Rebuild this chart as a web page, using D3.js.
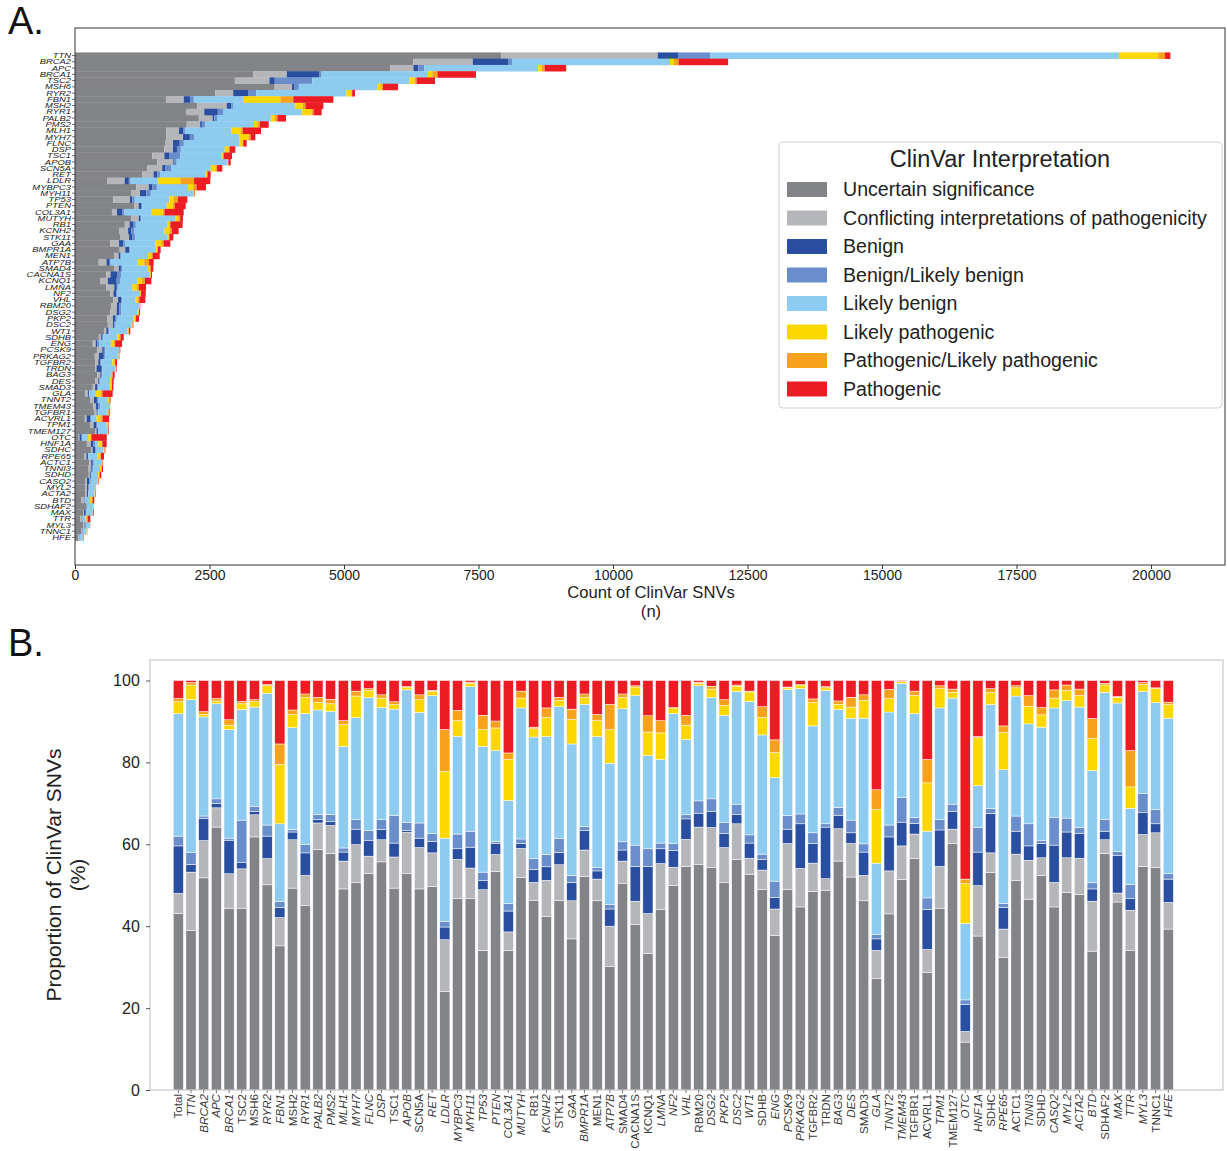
<!DOCTYPE html>
<html><head><meta charset="utf-8">
<script src="https://cdn.jsdelivr.net/npm/d3@7"></script>
<style>
body{margin:0;background:#fff}
text{font-family:"Liberation Sans",Arial,sans-serif}
</style>
</head><body>
<svg id="c" width="1227" height="1151"></svg>
<script>
const categories = ["Uncertain significance","Conflicting interpretations of pathogenicity","Benign","Benign/Likely benign","Likely benign","Likely pathogenic","Pathogenic/Likely pathogenic","Pathogenic"];
const colors = ["#838488","#b5b6ba","#2b4fa0","#6a8ecb","#8dcbf0","#fdd700","#f8a11c","#ec1c24"];

const genes = ["TTN","BRCA2","APC","BRCA1","TSC2","MSH6","RYR2","FBN1","MSH2","RYR1",
"PALB2","PMS2","MLH1","MYH7","FLNC","DSP","TSC1","APOB","SCN5A","RET",
"LDLR","MYBPC3","MYH11","TP53","PTEN","COL3A1","MUTYH","RB1","KCNH2","STK11",
"GAA","BMPR1A","MEN1","ATP7B","SMAD4","CACNA1S","KCNQ1","LMNA","NF2","VHL",
"RBM20","DSG2","PKP2","DSC2","WT1","SDHB","ENG","PCSK9","PRKAG2","TGFBR2",
"TRDN","BAG3","DES","SMAD3","GLA","TNNT2","TMEM43","TGFBR1","ACVRL1","TPM1",
"TMEM127","OTC","HNF1A","SDHC","RPE65","ACTC1","TNNI3","SDHD","CASQ2","MYL2",
"ACTA2","BTD","SDHAF2","MAX","TTR","MYL3","TNNC1","HFE"];

// total ClinVar SNV counts per gene (panel A)
const totals = [20360,12140,9130,7454,6691,6004,5204,4802,4616,4585,
3922,3600,3457,3352,3191,2980,2918,2894,2738,2522,
2515,2435,2230,2088,2057,2020,2007,2000,1927,1828,
1772,1592,1574,1462,1455,1431,1419,1320,1314,1307,
1214,1208,1190,1084,1028,905,874,842,824,781,
775,737,719,713,700,660,657,645,635,632,
626,590,589,564,539,522,520,489,440,392,
390,359,353,350,286,285,229,161];

const barLabels = ["Total"].concat(genes);

// proportions (%) per category, order = barLabels (panel B)
const uncertain = [43.1,38.9,51.8,64.2,44.4,44.4,61.8,50.1,35.2,49.3,
45.0,58.7,57.7,49.1,50.6,52.8,55.7,49.3,52.8,49.1,
49.7,24.0,46.7,46.7,34.1,53.4,34.0,51.9,46.3,42.4,
46.3,36.9,52.2,46.2,30.2,50.5,40.4,33.3,44.1,49.9,
54.6,55.0,54.3,50.6,56.3,52.7,49.0,37.7,48.9,44.7,
48.5,48.8,55.9,52.0,46.2,27.2,43.0,51.4,56.6,28.7,
44.4,60.2,11.7,37.6,53.1,32.4,51.2,46.6,52.4,44.7,
48.2,47.8,33.9,57.8,45.9,34.0,54.6,54.4,39.3];
const conflicting = [4.9,14.3,9.1,4.7,8.4,9.6,5.4,6.4,6.9,11.8,
7.4,6.5,6.9,6.8,9.3,4.3,5.4,7.6,10.1,10.1,
8.2,12.7,9.6,7.5,14.8,4.1,4.6,7.1,4.4,8.8,
8.7,9.3,6.4,5.3,9.8,5.4,5.7,9.8,11.2,4.5,
6.6,9.2,9.8,8.6,8.7,3.9,4.7,6.5,11.3,9.4,
6.9,2.8,7.9,8.2,6.2,6.9,10.5,8.2,5.9,5.6,
10.2,3.5,2.6,12.3,4.8,6.9,6.4,9.5,4.3,6.0,
8.5,8.8,12.2,3.3,2.2,9.9,7.8,8.4,6.5];
const benign = [11.6,1.9,5.4,1.0,8.2,1.5,0.8,5.5,2.4,1.9,
5.5,0.8,0.9,2.2,3.8,3.9,2.5,3.4,0.5,2.3,
2.8,3.1,2.6,5.1,2.2,2.7,5.1,1.2,3.2,3.3,
3.0,4.5,4.8,2.0,4.2,2.7,8.5,11.5,3.6,4.1,
5.0,3.4,3.9,3.4,2.3,3.7,2.6,2.8,3.5,10.9,
4.8,12.6,3.3,2.6,5.7,2.8,8.3,5.8,2.6,9.8,
8.9,4.3,6.6,8.2,9.6,5.3,5.6,3.5,3.5,9.1,
6.3,6.1,3.0,2.1,9.1,2.8,5.3,2.2,5.7];
const benignLikelyBenign = [2.4,2.9,0.6,1.2,0.5,10.4,1.3,2.7,1.5,0.6,
2.1,1.3,1.8,1.0,2.3,2.4,2.4,6.8,1.9,3.7,
1.9,1.3,3.6,3.9,2.1,0.5,1.8,1.1,2.6,3.0,
3.4,1.7,1.0,0.8,1.1,2.0,5.2,4.3,1.4,1.7,
1.0,3.0,3.1,2.8,2.5,2.0,1.3,4.0,3.3,2.4,
2.6,0.8,1.9,3.1,2.0,1.1,2.9,6.0,1.4,2.8,
2.5,1.8,1.1,6.0,1.2,1.0,3.7,5.4,0.8,6.7,
3.4,1.4,1.5,2.9,1.0,3.5,4.7,3.5,1.3];
const likelyBenign = [29.9,37.3,24.2,23.2,26.5,27.0,24.2,32.2,19.0,24.9,
31.9,25.5,25.2,24.8,24.9,32.4,27.4,25.9,32.4,27.0,
33.7,20.4,23.9,35.3,30.7,22.2,25.2,32.0,29.7,28.8,
32.2,32.1,29.8,32.0,34.5,32.5,36.5,22.8,20.4,31.7,
18.4,28.1,24.8,26.1,27.5,32.6,29.1,25.3,30.8,30.6,
26.1,32.6,23.9,24.9,30.7,17.4,27.6,27.9,25.4,16.3,
27.3,25.9,18.7,10.2,25.4,32.6,29.3,24.4,27.6,26.8,
28.7,29.4,27.4,31.0,36.3,18.6,24.9,26.1,38.0];
const likelyPathogenic = [2.9,3.6,0.6,0.7,1.1,1.4,1.3,1.8,14.5,3.2,
4.0,1.8,1.8,5.3,5.3,1.8,2.3,1.1,0.7,3.1,
1.0,16.3,3.8,0.8,4.1,5.5,10.0,2.4,2.0,4.7,
1.5,6.0,1.7,3.9,8.2,2.8,2.1,5.7,6.5,1.4,
3.5,0.6,2.0,2.4,1.3,2.3,4.3,6.1,0.4,0.9,
5.7,0.6,1.3,2.7,4.3,13.1,3.3,0.4,4.5,11.8,
4.7,1.4,9.7,11.7,3.0,9.1,2.0,4.3,3.0,2.4,
2.5,2.8,7.8,1.8,1.4,5.2,1.7,3.4,3.3];
const pathogenicLikely = [0.8,0.6,0.7,0.6,1.3,0.6,0.5,0.3,5.0,1.1,
0.8,1.3,1.1,1.0,1.2,0.4,0.8,0.7,0.1,1.2,
0.3,10.2,2.5,0.3,3.5,1.7,1.6,1.7,0.4,2.3,
0.8,2.5,0.8,1.5,6.2,0.8,0.3,4.0,3.0,0.1,
2.4,0.3,0.7,1.4,0.3,0.2,2.6,3.1,0.2,0.1,
0.9,0.3,0.8,2.4,1.4,4.8,2.2,0.1,1.0,5.7,
0.7,0.8,1.1,0.3,0.9,1.6,0.5,2.6,1.8,2.0,
1.3,1.6,4.9,0.4,0.2,8.9,0.5,0.2,0.6];
const pathogenic = [4.4,0.5,7.6,4.4,9.6,5.1,4.7,1.0,15.5,7.2,
3.3,4.1,4.6,9.8,2.6,2.0,3.5,5.2,1.5,3.5,
2.4,12.0,7.3,0.4,8.5,9.9,17.7,2.6,11.4,6.7,
4.1,7.0,3.3,8.3,5.8,3.3,1.3,8.6,9.8,6.6,
8.5,0.4,1.4,4.7,1.1,2.6,6.4,14.5,1.6,1.0,
4.5,1.5,5.0,4.1,3.5,26.7,2.2,0.2,2.6,19.3,
1.3,2.1,48.5,13.7,2.0,11.1,1.3,3.7,6.6,2.3,
1.1,2.1,9.3,0.7,3.9,17.1,0.5,1.8,5.3];

const xTicksA = [0,2500,5000,7500,10000,12500,15000,17500,20000];
const yTicksB = [0,20,40,60,80,100];
// panel B labels printed upright (the rest are italic)
const uprightLabels = ["Total","TSC2","MSH6","MSH2","TSC1","SCN5A","RB1","STK11","MEN1","SMAD4","CACNA1S","KCNQ1","RBM20","SDHB","TGFBR2","TRDN","SMAD3","TGFBR1","ACVRL1","TMEM127","SDHC","ACTC1","SDHD","SDHAF2","TNNC1"];

const series = [uncertain,conflicting,benign,benignLikelyBenign,likelyBenign,likelyPathogenic,pathogenicLikely,pathogenic];

// build tables
const propRows = barLabels.map((name,i)=>{
  const r = {name};
  const s = d3.sum(series, a=>a[i]);
  categories.forEach((c,k)=> r[c] = series[k][i]*100/s);
  return r;
});
const countRows = genes.map((g,i)=>{
  const r = {name:g};
  const p = propRows[i+1];
  categories.forEach(c=> r[c] = totals[i]*p[c]/100);
  return r;
});

const svg = d3.select("#c");
const textCol = "#222";
const FF = "'Liberation Sans',Arial,sans-serif";

// ---------------- Panel A ----------------
const A = {l:75, r:1225, t:28, b:565};
const xA = d3.scaleLinear().domain([0, 21375]).range([A.l, A.r]);
const step = (A.b - A.t)/(78 + 7.8);
const yA = d3.scaleBand().domain(genes).range([A.t + 3.9*step, A.b - 3.9*step]).padding(0);

const stackA = d3.stack().keys(categories)(countRows);
svg.append("g").selectAll("g.layer").data(stackA).join("g")
  .attr("fill",(d,i)=>colors[i])
  .selectAll("rect").data(d=>d).join("rect")
  .attr("x",d=>xA(d[0]))
  .attr("y",d=>yA(d.data.name))
  .attr("width",d=>Math.max(0,xA(d[1])-xA(d[0])))
  .attr("height",yA.bandwidth()+0.3);

svg.append("rect").attr("x",A.l).attr("y",A.t).attr("width",A.r-A.l).attr("height",A.b-A.t)
  .attr("fill","none").attr("stroke","#333").attr("stroke-width",1);

const axA = svg.append("g").attr("transform",`translate(0,${A.b})`)
  .call(d3.axisBottom(xA).tickValues(xTicksA).tickSize(4).tickFormat(d3.format("d")));
axA.select(".domain").remove();
axA.selectAll("text").attr("font-size",14).attr("fill",textCol).attr("y",5).style("font-family",FF);
axA.selectAll("line").attr("stroke","#333");

const ayA = svg.append("g").attr("transform",`translate(${A.l},0)`)
  .call(d3.axisLeft(yA).tickSize(3).tickFormat(""));
ayA.select(".domain").remove();
ayA.selectAll("line").attr("stroke","#333").attr("stroke-width",0.7);
svg.append("g").selectAll("text").data(genes).join("text")
  .attr("transform",d=>`translate(${A.l-4},${yA(d)+yA.bandwidth()/2+2.6}) scale(1,0.72)`)
  .attr("text-anchor","end").attr("font-size",9.4).attr("font-style","italic")
  .attr("fill","#222").text(d=>d);

svg.append("text").attr("x",651).attr("y",598).attr("text-anchor","middle")
  .attr("font-size",16.6).attr("fill",textCol).text("Count of ClinVar SNVs");
svg.append("text").attr("x",651).attr("y",617).attr("text-anchor","middle")
  .attr("font-size",16.6).attr("fill",textCol).text("(n)");

// legend
const L = svg.append("g");
L.append("rect").attr("x",779).attr("y",142).attr("width",443).attr("height",266).attr("rx",4)
  .attr("fill","#fff").attr("stroke","#cfcfcf").attr("stroke-width",1);
L.append("text").attr("x",1000).attr("y",167).attr("text-anchor","middle")
  .attr("font-size",23.5).attr("fill",textCol).text("ClinVar Interpretation");
categories.forEach((c,i)=>{
  L.append("rect").attr("x",787).attr("y",182+i*28.5).attr("width",40).attr("height",15).attr("fill",colors[i]);
  L.append("text").attr("x",843).attr("y",196+i*28.5).attr("font-size",19.6).attr("fill",textCol).text(c);
});

svg.append("text").attr("x",8).attr("y",34).attr("font-size",38).attr("fill","#111").text("A.");
svg.append("text").attr("x",8).attr("y",656).attr("font-size",38).attr("fill","#111").text("B.");

// ---------------- Panel B ----------------
const B = {l:150, r:1223, t:660, b:1090};
const xB = d3.scaleBand().domain(barLabels).range([171.96, 1174.65]).paddingInner(0.2).paddingOuter(0.1);
const yB = d3.scaleLinear().domain([0,105]).range([B.b, B.t]);

const stackB = d3.stack().keys(categories)(propRows);
svg.append("g").selectAll("g").data(stackB).join("g")
  .attr("fill",(d,i)=>colors[i])
  .selectAll("rect").data(d=>d).join("rect")
  .attr("x",d=>xB(d.data.name))
  .attr("y",d=>yB(d[1]))
  .attr("width",xB.bandwidth())
  .attr("height",d=>Math.max(0,yB(d[0])-yB(d[1])))
  .attr("stroke","#fff").attr("stroke-width",0.5);

svg.append("rect").attr("x",B.l).attr("y",B.t).attr("width",B.r-B.l).attr("height",B.b-B.t)
  .attr("fill","none").attr("stroke","#bdbdbd").attr("stroke-width",1);

const ayB = svg.append("g").attr("transform",`translate(${B.l},0)`)
  .call(d3.axisLeft(yB).tickValues(yTicksB).tickSize(4));
ayB.select(".domain").remove();
ayB.selectAll("line").attr("stroke","#555");
ayB.selectAll("text").attr("font-size",16).attr("fill",textCol).attr("dx","-0.2em").style("font-family",FF);

const axB = svg.append("g").attr("transform",`translate(0,${B.b})`)
  .call(d3.axisBottom(xB).tickSize(3).tickFormat(""));
axB.select(".domain").remove();
axB.selectAll("line").attr("stroke","#777");
svg.append("g").selectAll("text").data(barLabels).join("text")
  .attr("transform",d=>`translate(${xB(d)+xB.bandwidth()/2+4},${B.b+4}) rotate(-90)`)
  .attr("text-anchor","end").attr("font-size",11.6)
  .attr("font-style",d=>uprightLabels.includes(d)?"normal":"italic")
  .attr("fill","#3a3a3a").text(d=>d);

svg.append("text").attr("transform","translate(61,875) rotate(-90)").attr("text-anchor","middle")
  .attr("font-size",21).attr("fill",textCol).text("Proportion of ClinVar SNVs");
svg.append("text").attr("transform","translate(85,875) rotate(-90)").attr("text-anchor","middle")
  .attr("font-size",21).attr("fill",textCol).text("(%)");
</script>
</body></html>
